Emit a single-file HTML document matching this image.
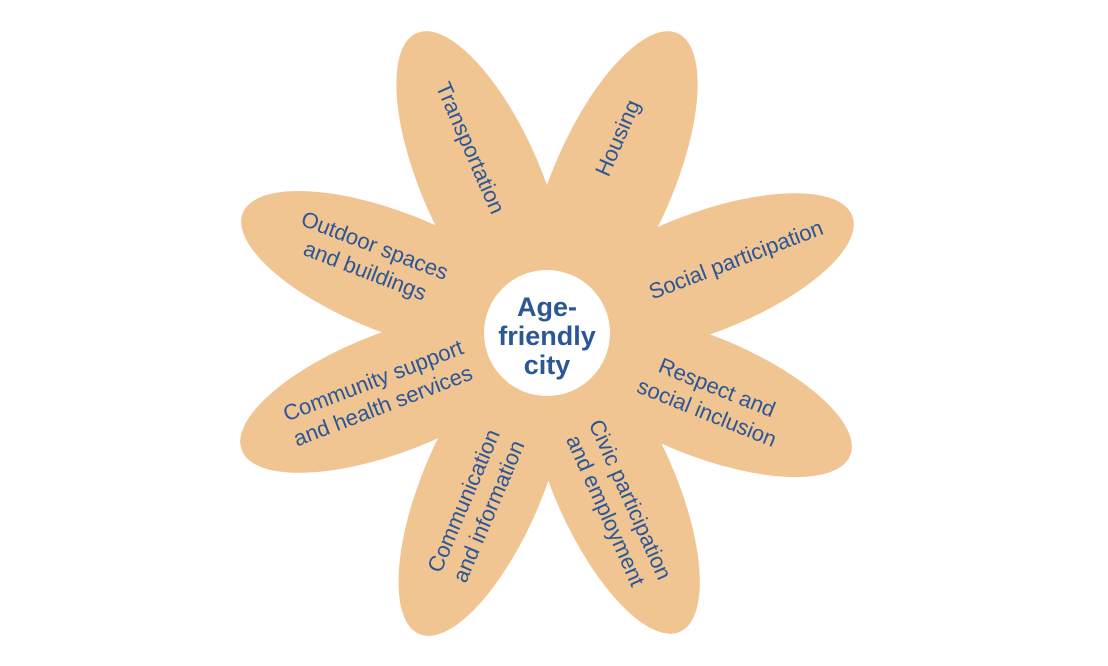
<!DOCTYPE html>
<html><head><meta charset="utf-8"><style>
html,body{margin:0;padding:0;background:#fff;}
svg{display:block;}
text{font-family:"Liberation Sans",sans-serif;fill:#2b5697;font-size:22px;text-anchor:middle;}
</style></head><body>
<svg width="1108" height="666" viewBox="0 0 1108 666">
<g fill="#f1c592" transform="translate(547,333)">
<ellipse cx="165" cy="0" rx="162" ry="60" transform="rotate(-113.5)"/>
<ellipse cx="165" cy="0" rx="162" ry="60" transform="rotate(-66.5)"/>
<ellipse cx="165" cy="0" rx="162" ry="60" transform="rotate(-21)"/>
<ellipse cx="165" cy="0" rx="162" ry="60" transform="rotate(22)"/>
<ellipse cx="165" cy="0" rx="162" ry="60" transform="rotate(66)"/>
<ellipse cx="165" cy="0" rx="162" ry="60" transform="rotate(113)"/>
<ellipse cx="165" cy="0" rx="162" ry="60" transform="rotate(159)"/>
<ellipse cx="165" cy="0" rx="162" ry="60" transform="rotate(-158.5)"/>
<circle cx="0" cy="0" r="63" fill="#fff"/>
</g>
<text transform="translate(470,148) rotate(66.5)" dy="7">Transportation</text>
<text transform="translate(618,138) rotate(-66.5)" dy="7">Housing</text>
<text transform="translate(736,260) rotate(-21)" dy="7">Social participation</text>
<g transform="translate(712,400) rotate(22)"><text y="-6">Respect and</text><text y="21">social inclusion</text></g>
<g transform="translate(618,505) rotate(66)"><text y="-6">Civic participation</text><text y="21">and employment</text></g>
<g transform="translate(476,506) rotate(-67)"><text y="-6">Communication</text><text y="21">and information</text></g>
<g transform="translate(378,393) rotate(-21)"><text y="-6">Community support</text><text y="21">and health services</text></g>
<g transform="translate(370,258) rotate(21)"><text y="-6">Outdoor spaces</text><text y="21">and buildings</text></g>
<text x="547" y="316" style="font-size:27px;font-weight:bold">Age-</text>
<text x="547" y="345" style="font-size:27px;font-weight:bold">friendly</text>
<text x="547" y="374" style="font-size:27px;font-weight:bold">city</text>
</svg>
</body></html>
